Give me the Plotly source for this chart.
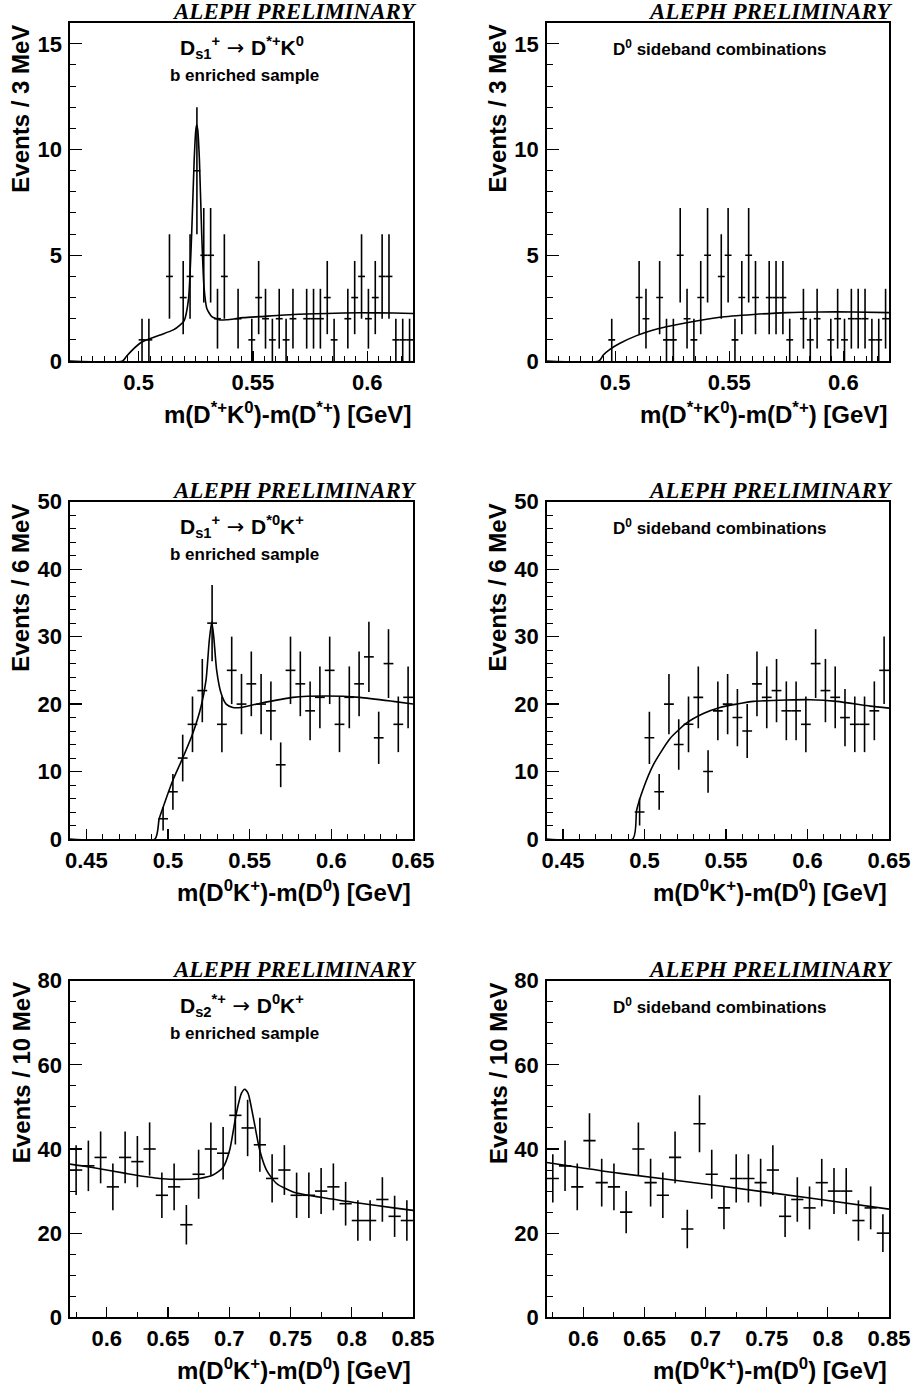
import numpy as np
import plotly.graph_objects as go

W, H = 917, 1386

# ---------------- data ----------------
# Panel A: Ds1 -> D*+ K0, b enriched sample (3 MeV bins from 0.47 GeV)
a_lo, a_bw = 0.47, 0.003
a_counts = [0, 0, 0, 0, 0, 0, 0, 0, 0, 0,
            1, 1, 0, 0, 4, 0, 3, 4, 9, 5,
            5, 2, 4, 0, 2, 0, 1, 3, 2, 1,
            2, 1, 2, 0, 2, 2, 2, 3, 1, 0,
            2, 3, 4, 2, 3, 4, 4, 1, 1, 1]
a_fit_x = [0.47, 0.4930, 0.4948, 0.5006, 0.5036, 0.5094, 0.5152, 0.5181, 0.5199,
           0.5218, 0.5232, 0.5243, 0.5250, 0.5254, 0.5259, 0.5266, 0.5276, 0.5286,
           0.5298, 0.5320, 0.5356, 0.5386, 0.5459, 0.5532, 0.5677, 0.5823, 0.5969,
           0.6115, 0.62]
a_fit_y = [0, 0, 0.24, 0.84, 1.0, 1.23, 1.47, 1.7, 1.9,
           2.9, 6.0, 9.5, 10.9, 11.17, 10.9, 9.5, 6.0, 3.5,
           2.5, 2.1, 1.94, 1.95, 2.05, 2.1, 2.2, 2.25, 2.28,
           2.27, 2.25]

# Panel B: D0 sideband combinations (3 MeV bins)
b_lo, b_bw = 0.47, 0.003
b_counts = [0, 0, 0, 0, 0, 0, 0, 0, 0, 1,
            0, 0, 0, 3, 2, 0, 3, 1, 1, 5,
            2, 1, 3, 5, 0, 4, 5, 1, 3, 5,
            3, 0, 3, 3, 3, 1, 0, 2, 1, 2,
            0, 1, 2, 1, 2, 2, 2, 1, 1, 2]
b_fit_x = [0.47, 0.4929, 0.4948, 0.4977, 0.5021, 0.5094, 0.5167, 0.5313, 0.5459,
           0.5606, 0.5752, 0.5898, 0.6044, 0.62]
b_fit_y = [0, 0, 0.28, 0.55, 0.84, 1.2, 1.47, 1.81, 2.07,
           2.2, 2.29, 2.32, 2.32, 2.29]

# Panel C: Ds1 -> D*0 K+, b enriched sample (6 MeV bins from 0.44 GeV)
c_lo, c_bw = 0.44, 0.006
c_counts = [0, 0, 0, 0, 0, 0, 0, 0, 0, 3,
            7, 12, 17, 22, 32, 17, 25, 20, 23, 20,
            19, 11, 25, 23, 19, 21, 25, 17, 21, 23,
            27, 15, 26, 17, 21]
c_fit_x = [0.44, 0.4920, 0.4946, 0.4977, 0.5028, 0.5090, 0.5151, 0.5202, 0.5233,
           0.5253, 0.5268, 0.5280, 0.5298, 0.5325, 0.5356, 0.5397, 0.5448, 0.5560,
           0.5765, 0.5969, 0.6174, 0.6379, 0.65]
c_fit_y = [0, 0, 3.0, 5.2, 8.6, 12.0, 15.6, 19.6, 23.6,
           29.5, 32.2, 30.0, 25.0, 21.6, 20.0, 19.5, 19.5, 20.1,
           21.0, 21.2, 21.0, 20.4, 20.0]

# Panel D: D0 sideband combinations (6 MeV bins)
d_lo, d_bw = 0.44, 0.006
d_counts = [0, 0, 0, 0, 0, 0, 0, 0, 0, 4,
            15, 7, 20, 14, 17, 21, 10, 19, 20, 18,
            16, 23, 21, 22, 19, 19, 17, 26, 22, 21,
            18, 17, 17, 19, 25]
d_fit_x = [0.44, 0.4928, 0.4952, 0.4993, 0.5054, 0.5157, 0.5259, 0.5361, 0.5463,
           0.5566, 0.5668, 0.5872, 0.6016, 0.6179, 0.6384, 0.65]
d_fit_y = [0, 0, 4.3, 7.5, 11.0, 14.9, 17.2, 18.6, 19.5,
           20.0, 20.4, 20.6, 20.65, 20.4, 19.7, 19.4]

# Panel E: Ds2* -> D0 K+, b enriched sample (10 MeV bins from 0.57 GeV)
e_lo, e_bw = 0.57, 0.010
e_counts = [35, 36, 38, 31, 38, 37, 40, 29, 31, 22,
            34, 40, 39, 48, 45, 41, 33, 35, 29, 29,
            30, 31, 27, 23, 23, 28, 24, 23]
e_fit_x = [0.57, 0.5883, 0.6156, 0.6430, 0.6648, 0.6757, 0.6867, 0.6949, 0.7003,
           0.7058, 0.7099, 0.7126, 0.7154, 0.7195, 0.7249, 0.7304, 0.7386, 0.7522,
           0.7796, 0.8069, 0.8342, 0.85]
e_fit_y = [36.4, 35.6, 34.2, 33.0, 32.8, 33.0, 33.8, 35.6, 39.7,
           48.5, 53.2, 54.2, 53.2, 47.7, 39.7, 35.0, 31.8, 29.8,
           28.3, 27.1, 26.0, 25.4]

# Panel F: D0 sideband combinations (10 MeV bins)
f_lo, f_bw = 0.57, 0.010
f_counts = [33, 36, 31, 42, 32, 31, 25, 40, 32, 29,
            38, 21, 46, 34, 26, 33, 33, 32, 35, 24,
            28, 26, 32, 30, 30, 23, 26, 20]
f_fit_x = [0.57, 0.6301, 0.7121, 0.7940, 0.85]
f_fit_y = [36.8, 34.2, 31.2, 28.0, 25.7]

x_ranges = [(0.47, 0.62), (0.44, 0.65), (0.57, 0.85)]
y_ranges = [16, 50, 80]
x_dticks = [(0.5, 0.05, 0.005), (0.45, 0.05, 0.01), (0.6, 0.05, 0.025)]
y_dticks = [(5, 1), (10, 2), (20, 5)]
y_titles = ["Events / 3 MeV", "Events / 6 MeV", "Events / 10 MeV"]
x_titles = ["m(D<sup>*+</sup>K<sup>0</sup>)-m(D<sup>*+</sup>) [GeV]",
            "m(D<sup>0</sup>K<sup>+</sup>)-m(D<sup>0</sup>) [GeV]",
            "m(D<sup>0</sup>K<sup>+</sup>)-m(D<sup>0</sup>) [GeV]"]
ARROW = "<span style='font-family:DejaVu Sans;font-weight:normal'> \u2192 </span>"
sig_titles = ["D<sub>s1</sub><sup>+</sup>" + ARROW + "D<sup>*+</sup>K<sup>0</sup>",
              "D<sub>s1</sub><sup>+</sup>" + ARROW + "D<sup>*0</sup>K<sup>+</sup>",
              "D<sub>s2</sub><sup>*+</sup>" + ARROW + "D<sup>0</sup>K<sup>+</sup>"]

panels = [
    (a_lo, a_bw, a_counts, a_fit_x, a_fit_y),
    (b_lo, b_bw, b_counts, b_fit_x, b_fit_y),
    (c_lo, c_bw, c_counts, c_fit_x, c_fit_y),
    (d_lo, d_bw, d_counts, d_fit_x, d_fit_y),
    (e_lo, e_bw, e_counts, e_fit_x, e_fit_y),
    (f_lo, f_bw, f_counts, f_fit_x, f_fit_y),
]

# ---------------- layout geometry (pixels) ----------------
cols_px = [(70, 413), (546.7, 889)]
rows_px = [(22.7, 361), (501.7, 839), (980.7, 1317.3)]

def px_x(x):
    return x / W

def px_y(y):
    return 1 - y / H

SANS = "Liberation Sans"
SERIF = "Liberation Serif"

fig = go.Figure()
layout = dict(width=W, height=H,
              margin=dict(l=0, r=0, t=0, b=0, pad=0, autoexpand=False),
              paper_bgcolor="white", plot_bgcolor="white", showlegend=False)
annotations = []

for i, (lo, bw, counts, fx, fy) in enumerate(panels):
    r, c = divmod(i, 2)
    n = i + 1
    xa = "x" if n == 1 else f"x{n}"
    ya = "y" if n == 1 else f"y{n}"
    counts = np.array(counts, dtype=float)
    centers = lo + bw * (np.arange(len(counts)) + 0.5)
    keep = counts > 0
    fig.add_trace(go.Scatter(
        x=centers[keep], y=counts[keep], mode="markers",
        marker=dict(size=1, color="black"),
        error_x=dict(type="constant", value=bw / 2, width=0, thickness=1.6, color="black"),
        error_y=dict(type="data", array=np.sqrt(counts[keep]), width=0, thickness=1.6, color="black"),
        xaxis=xa, yaxis=ya, hoverinfo="skip"))
    fig.add_trace(go.Scatter(
        x=fx, y=fy, mode="lines", line=dict(color="black", width=1.6, shape="spline", smoothing=0.6),
        xaxis=xa, yaxis=ya, hoverinfo="skip"))

    L, R = cols_px[c]
    T, B = rows_px[r]
    xr = x_ranges[r]
    t0, dt, mdt = x_dticks[r]
    ydt, ymdt = y_dticks[r]
    layout["xaxis" if n == 1 else f"xaxis{n}"] = dict(
        domain=[px_x(L), px_x(R)], anchor=ya, range=[xr[0], xr[1] + 1e-9],
        automargin=False,
        showline=True, linecolor="black", linewidth=1.6, mirror=True,
        ticks="inside", ticklen=10, tickwidth=1.2, tickcolor="black",
        tick0=t0, dtick=dt,
        minor=dict(tick0=t0, dtick=mdt, ticks="inside", ticklen=5, tickwidth=1, tickcolor="black"),
        tickfont=dict(family=SANS, size=22, color="black", weight="bold"),
        ticklabelstandoff=1,
        showgrid=False, zeroline=False, fixedrange=True)
    layout["yaxis" if n == 1 else f"yaxis{n}"] = dict(
        domain=[px_y(B), px_y(T)], anchor=xa, range=[0, y_ranges[r] + 1e-6],
        automargin=False,
        showline=True, linecolor="black", linewidth=1.6, mirror=True,
        ticks="inside", ticklen=12, tickwidth=1.2, tickcolor="black",
        tick0=0, dtick=ydt,
        minor=dict(tick0=0, dtick=ymdt, ticks="inside", ticklen=6, tickwidth=1, tickcolor="black"),
        tickfont=dict(family=SANS, size=22, color="black", weight="bold"),
        ticklabelstandoff=2,
        showgrid=False, zeroline=False, fixedrange=True)

    # ALEPH PRELIMINARY
    annotations.append(dict(
        text="ALEPH PRELIMINARY", xref="paper", yref="paper",
        x=px_x(R + 5), y=px_y(T - 11), xanchor="right", yanchor="middle",
        showarrow=False, font=dict(family=SERIF, size=23, color="black", weight="bold", style="italic")))
    # y title
    annotations.append(dict(
        text=y_titles[r], xref="paper", yref="paper",
        x=px_x(L - 49), y=px_y(T), xanchor="center", yanchor="top", textangle=-90,
        showarrow=False, font=dict(family=SANS, size=24, color="black", weight="bold")))
    # x title
    annotations.append(dict(
        text=x_titles[r], xref="paper", yref="paper",
        x=px_x(R), y=px_y(B + 52), xanchor="right", yanchor="middle",
        showarrow=False, font=dict(family=SANS, size=24, color="black", weight="bold")))
    if c == 0:
        annotations.append(dict(
            text=sig_titles[r], xref="paper", yref="paper",
            x=px_x((L + R) / 2), y=px_y(T + 25), xanchor="center", yanchor="middle",
            showarrow=False, font=dict(family=SANS, size=21, color="black", weight="bold")))
        annotations.append(dict(
            text="b enriched sample", xref="paper", yref="paper",
            x=px_x((L + R) / 2 + 2.5), y=px_y(T + 53), xanchor="center", yanchor="middle",
            showarrow=False, font=dict(family=SANS, size=17, color="black", weight="bold")))
    else:
        annotations.append(dict(
            text="D<sup>0</sup> sideband combinations", xref="paper", yref="paper",
            x=px_x((L + R) / 2 + 2), y=px_y(T + 25), xanchor="center", yanchor="middle",
            showarrow=False, font=dict(family=SANS, size=17, color="black", weight="bold")))

layout["annotations"] = annotations
fig.update_layout(**layout)
fig.write_html("out.html",
               config={"displayModeBar": False, "staticPlot": True},
               post_script="document.body.style.margin='0';document.body.style.padding='0';")
